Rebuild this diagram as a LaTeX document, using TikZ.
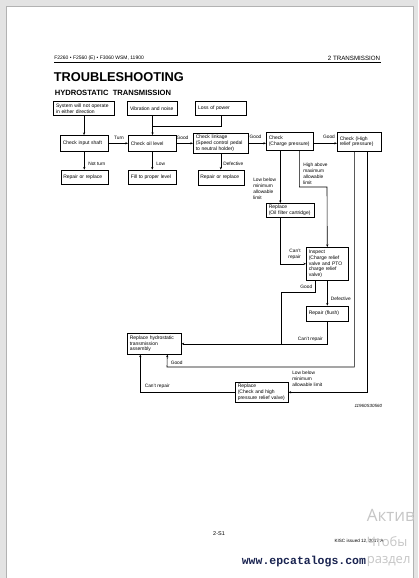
\documentclass[tikz,border=0pt]{standalone}
\usepackage{fontspec}
\setmainfont{Liberation Sans}
\setmonofont{Liberation Mono}
\newfontfamily\wmfont{Open Sans}
\usepackage{tikz}
\usetikzlibrary{positioning}
\usetikzlibrary{arrows.meta}

\definecolor{sitenavy}{RGB}{25,35,80}

\begin{document}
\begin{tikzpicture}[
                x=1pt, y=-1pt,
                every node/.style={font=\fontsize{5}{5.8}\selectfont},
                >={Stealth[length=2.6pt, width=2.2pt]},
                line width=0.6pt,
                box/.style 2 args={rectangle, draw, anchor=north west, align=left, inner xsep=2.5pt, inner ysep=0.5pt, text width=#1, minimum height=#2},
                topbox/.style 2 args={box={#1}{#2}, line width=1.1pt},
                lbl/.style={inner sep=0.5pt, align=left, font=\fontsize{4.8}{5.8}\selectfont}
            ]
            % Page
            \useasboundingbox (0,0) rectangle (418,578);
            \fill[gray!22] (0,0) rectangle (418,578);
            \filldraw[fill=white, draw=gray!60] (6,6) rectangle (413,590);
            % Header
            \node[lbl, anchor=west, font=\fontsize{5}{6}\selectfont] (hdr) at (53.5,58.5) {F2260 • F2560 (E) • F3060 WSM, 11900};
            \node[lbl, anchor=east, font=\fontsize{6.2}{7}\selectfont] (chap) at (381,58.5) {2 TRANSMISSION};
            \draw[line width=0.45pt] (54,62) -- (381,62);
            \node[lbl, anchor=west, font=\bfseries\fontsize{12.8}{14}\selectfont] (title) at (53,77) {TROUBLESHOOTING};
            \node[lbl, anchor=west, font=\bfseries\fontsize{7.6}{9}\selectfont] (subtitle) at (54,93) {HYDROSTATIC\ \ TRANSMISSION};
            % Nodes
            \node[topbox={56pt}{14pt}] (sys) at (53,101) {System will not operate\\in either direction};
            \node[topbox={45pt}{14pt}] (vib) at (127,101) {Vibration and noise};
            \node[topbox={46pt}{14pt}] (loss) at (195,101) {Loss of power};
            \node[box={43pt}{16pt}] (inshaft) at (60,135) {Check input shaft};
            \node[box={43pt}{16pt}] (oil) at (128,135) {Check oil level};
            \node[box={50pt}{20pt}] (linkage) at (193,133) {Check linkage\\(Speed control pedal\\to neutral holder)};
            \node[box={42pt}{18pt}] (charge) at (266,132) {Check\\(Charge pressure)};
            \node[box={39pt}{19pt}] (relief) at (337,132) {Check (High\\relief pressure)};
            \node[box={42pt}{14pt}, below=18pt of inshaft] (rep1) {Repair or replace};
            \node[box={43pt}{14pt}, below=18pt of oil] (fillup) {Fill to proper level};
            \node[box={41pt}{15pt}, below=16pt of linkage] (rep2) {Repair or replace};
            \node[box={43pt}{14pt}] (oilfilt) at (266,203) {Replace\\(Oil filter cartridge)};
            \node[box={37pt}{33pt}] (inspect) at (306,247) {Inspect\\(Charge relief\\valve and PTO\\charge relief\\valve)};
            \node[box={37pt}{15pt}, below=25pt of inspect] (flush) {Repair (flush)};
            \node[box={49pt}{21pt}] (hst) at (127,333) {Replace hydrostatic\\transmission\\assembly};
            \node[box={48pt}{20pt}] (hprv) at (235,382) {Replace\\(Check and high\\pressure relief valve)};
            % Labels
            \node[lbl] (turn) at (119,137.5) {Turn};
            \node[lbl] (good1) at (182.5,137.5) {Good};
            \node[lbl] (good2) at (255.5,137) {Good};
            \node[lbl] (good3) at (329,137) {Good};
            \node[lbl, anchor=west] (notturn) at (87.5,164) {Not turn};
            \node[lbl, anchor=west] (low) at (155.5,164) {Low};
            \node[lbl, anchor=west] (defect1) at (222.5,164) {Defective};
            \node[lbl, anchor=north west] (lowlim1) at (252.5,177.5) {Low below\\minimum\\allowable\\limit};
            \node[lbl, anchor=north west] (highlim) at (302.5,162.5) {High above\\maximum\\allowable\\limit};
            \node[lbl, anchor=north east, align=right] (cantrep1) at (301.5,248.5) {Can't\\repair};
            \node[lbl, anchor=east] (good4) at (313,287) {Good};
            \node[lbl, anchor=west] (defect2) at (330,299) {Defective};
            \node[lbl, anchor=east] (cantrep2) at (323.5,339) {Can't repair};
            \node[lbl, anchor=west] (good5) at (170,363) {Good};
            \node[lbl, anchor=north west] (lowlim2) at (291.5,370.5) {Low below\\minimum\\allowable limit};
            \node[lbl, anchor=west] (cantrep3) at (144,386) {Can't repair};
            \node[lbl, anchor=east, font=\itshape\fontsize{4.5}{5}\selectfont] (figid) at (383,406) {11960S30560};
            % Arrows
            \coordinate (join) at (153,126);
            \coordinate (hibend) at (327,187);
            \coordinate (goodbend) at (281,292);
            \coordinate (goodjoin) at (281,343.5);
            \coordinate (goodhst) at (167,367);
            \draw[->] (sys.south) -- (sys.south |- inshaft.north);
            \draw (loss.south) |- (join);
            \draw[->] (vib.south) -- (vib.south |- oil.north);
            \draw[->] (inshaft.east) -- (oil.west);
            \draw[->] (oil.east) -- (linkage.west);
            \draw[->] (linkage.east) -- (linkage.east -| charge.west);
            \draw[->] (charge.east |- linkage.east) -- (relief.west |- linkage.east);
            \draw[->] (inshaft.south) -- (rep1.north);
            \draw[->] (oil.south) -- (fillup.north);
            \draw[->] (linkage.south) -- (rep2.north);
            \draw[->] ([xshift=-9.5pt]charge.south) -- ([xshift=-10pt]oilfilt.north);
            \draw[->] ([xshift=9.5pt]charge.south) |- (hibend) -- (inspect.north);
            \draw[->] ([xshift=-10pt]oilfilt.south) |- (inspect.west);
            \draw ([xshift=-12pt]inspect.south) |- (goodbend) -- (goodjoin);
            \draw[->] (inspect.south) -- (flush.north);
            \draw[->] (flush.south) |- (hst.east);
            \draw[->] ([xshift=-5pt]relief.south) |- (goodhst) -- ([xshift=13pt]hst.south);
            \draw[->] ([xshift=8pt]relief.south) |- (hprv.east);
            \draw[->] (hprv.west) -| ([xshift=-14pt]hst.south);
            % Footer
            \node[lbl, font=\fontsize{5.5}{6}\selectfont] (pageno) at (219,534) {2-S1};
            \node[lbl, font=\fontsize{4.6}{5}\selectfont] (issued) at (359,541) {KISC issued 12, 2017 A};
            \node[lbl, anchor=west, text=sitenavy, font=\ttfamily\bfseries\fontsize{11.5}{12}\selectfont] (site) at (241,562) {www.epcatalogs.com};
            \begin{scope}
                \clip (6,6) rectangle (413,578);
                \node[lbl, anchor=west, text=gray!45, font=\wmfont\fontsize{17}{18}\selectfont] (wm1) at (366,515) {Актив};
                \node[lbl, anchor=west, text=gray!45, font=\wmfont\fontsize{13}{14}\selectfont] (wm2) at (366,542) {Чтобы};
                \node[lbl, anchor=west, text=gray!45, font=\wmfont\fontsize{13}{14}\selectfont] (wm3) at (366,562) {раздел};
            \end{scope}
            \end{tikzpicture}
\end{document}
